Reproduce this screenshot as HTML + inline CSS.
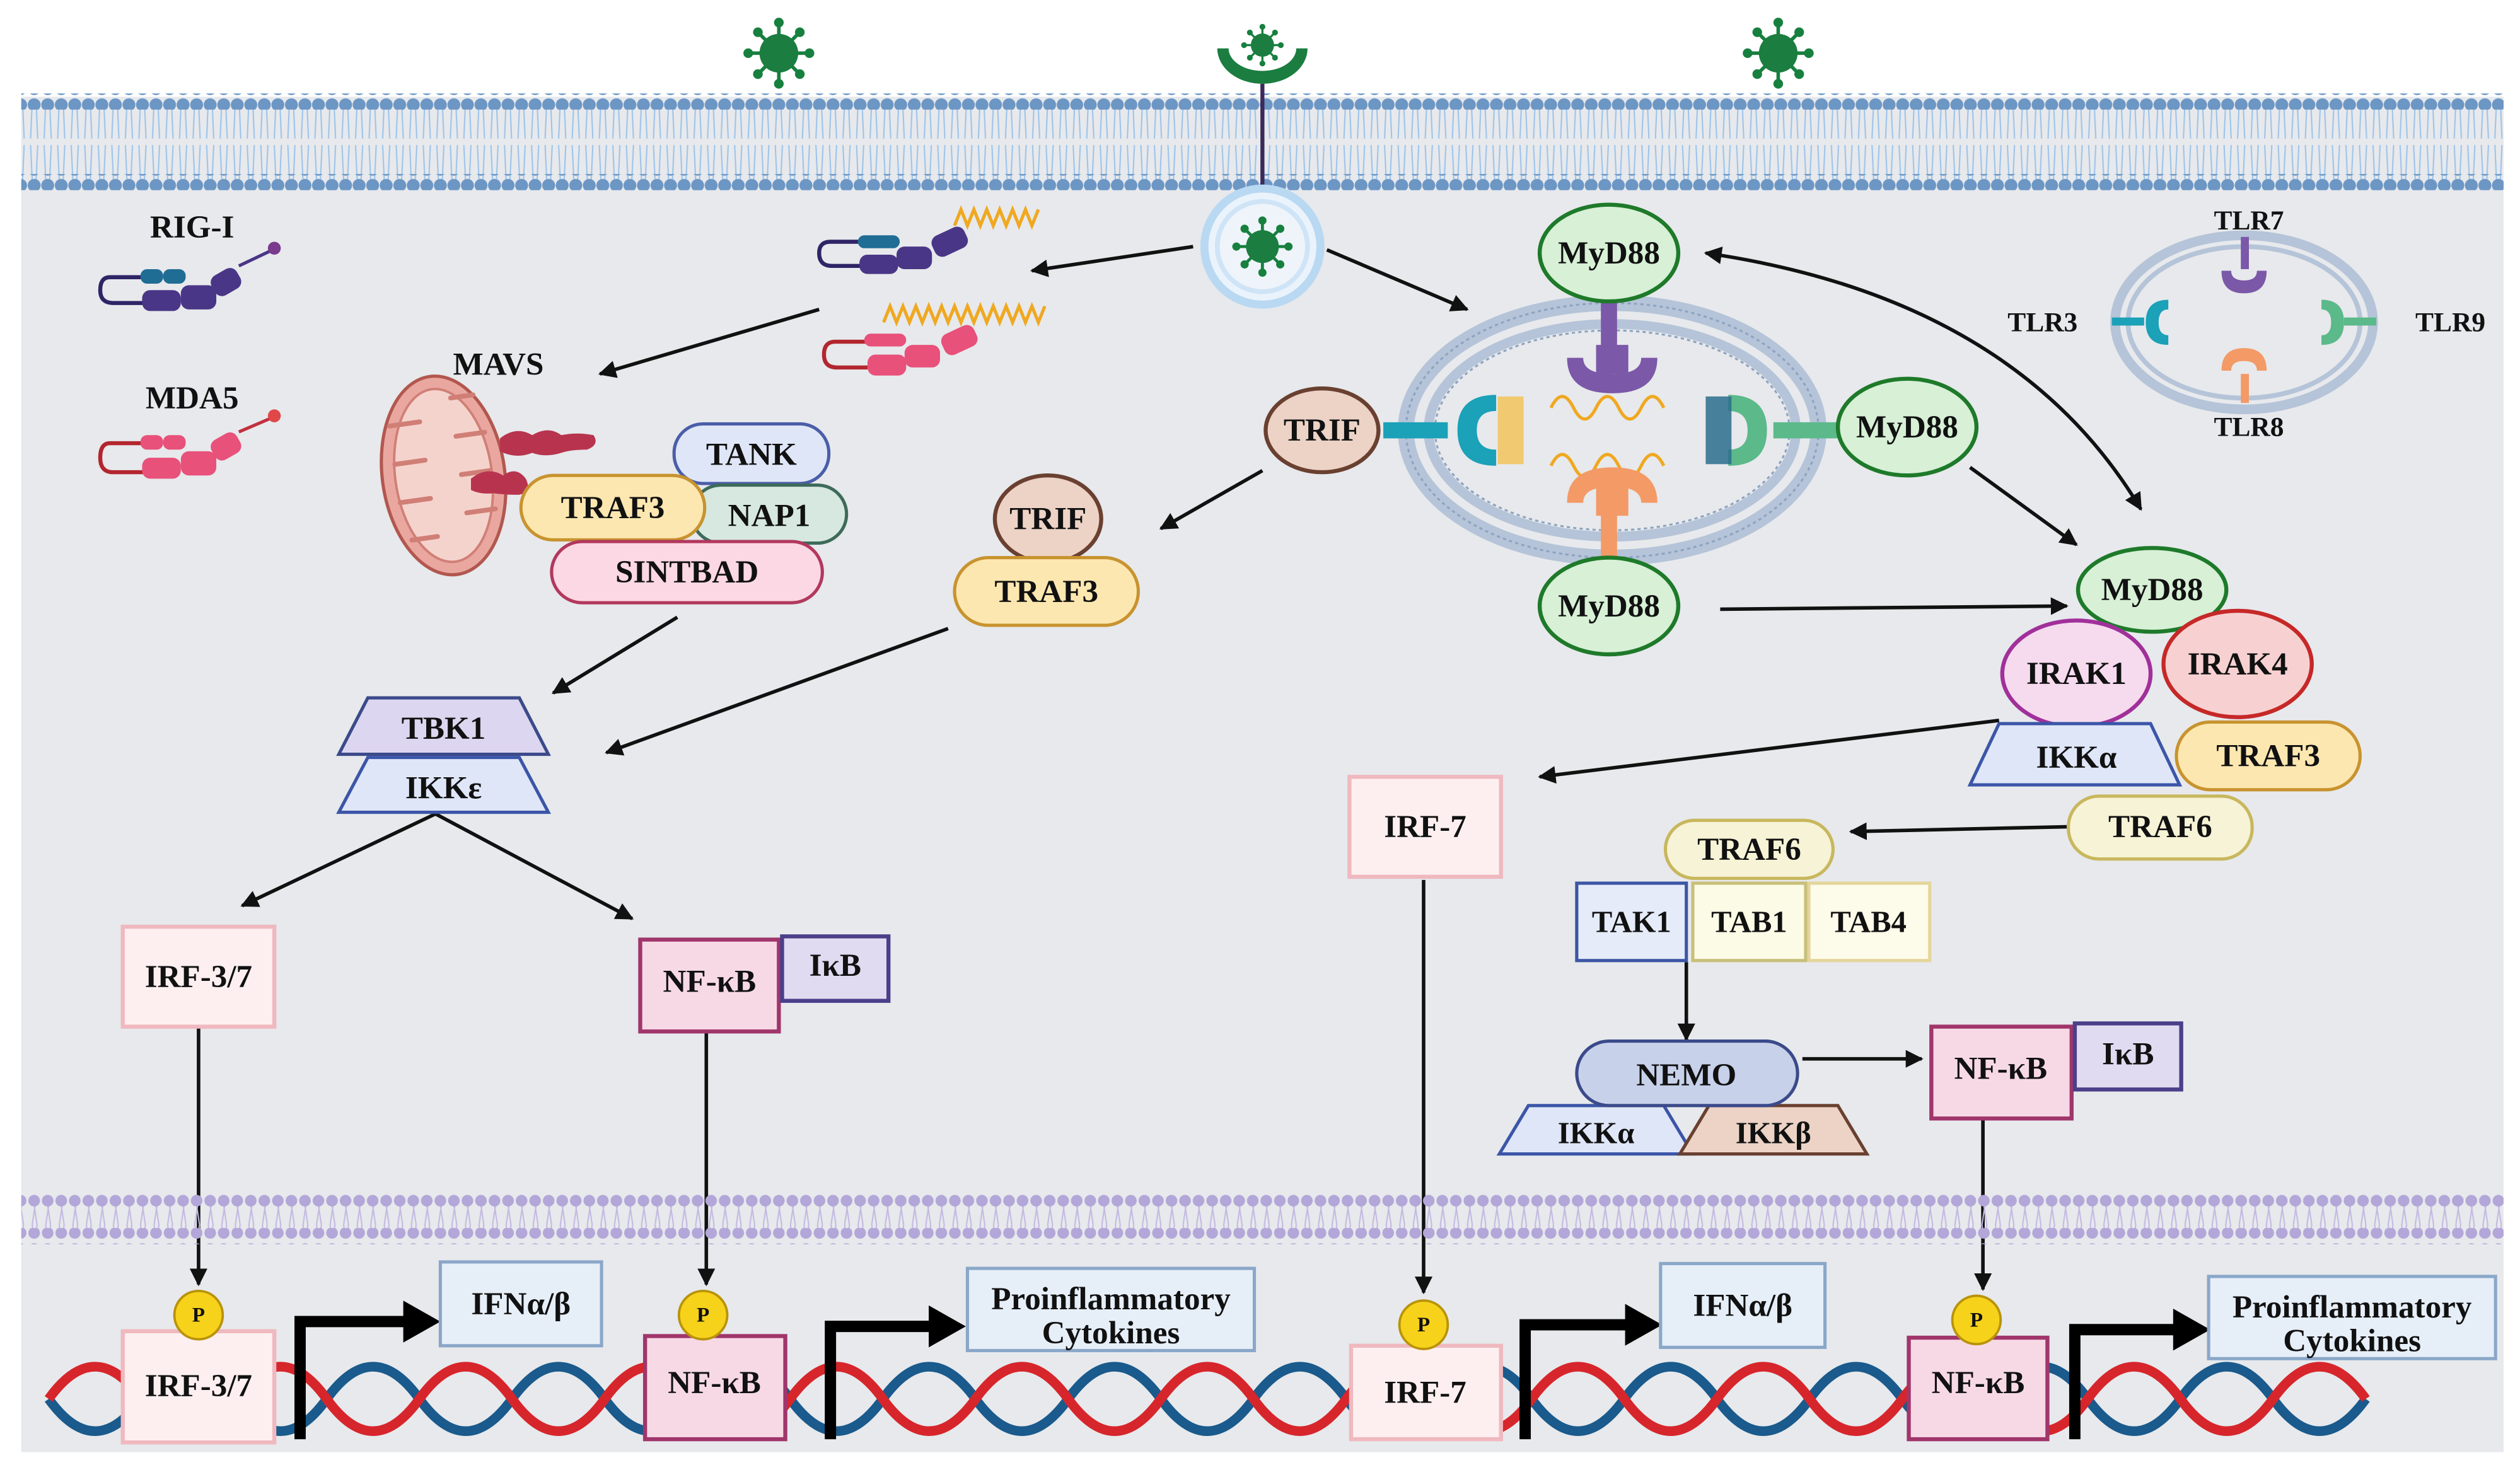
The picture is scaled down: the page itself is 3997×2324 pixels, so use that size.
<!DOCTYPE html>
<html><head><meta charset="utf-8"><style>html,body{margin:0;padding:0;background:#fff}svg{display:block}text{font-family:"Liberation Serif",serif;font-weight:bold;fill:#111;text-anchor:middle;dominant-baseline:central}</style></head><body>
<svg width="3997" height="2324" viewBox="0 0 1563 909" xmlns="http://www.w3.org/2000/svg">
<defs>
<marker id="ah" viewBox="0 0 10 10" refX="9" refY="5" markerWidth="5" markerHeight="5" orient="auto-start-reverse"><path d="M0,0L10,5L0,10z" fill="#111"/></marker>
<pattern id="mem" x="0" y="60" width="8.4" height="56" patternUnits="userSpaceOnUse"><g stroke="#9cc3ea" stroke-width="0.8"><line x1="3" y1="3" x2="2" y2="26"/><line x1="5.4" y1="3" x2="6.4" y2="26"/><line x1="2" y1="30" x2="3" y2="52"/><line x1="6.4" y1="30" x2="5.4" y2="52"/></g></pattern>
<pattern id="dots" width="8.4" height="10" patternUnits="userSpaceOnUse"><circle cx="4.2" cy="5" r="4" fill="#6c96c4"/></pattern>
<pattern id="ndots" width="8.4" height="10" patternUnits="userSpaceOnUse"><circle cx="4.2" cy="5" r="3.6" fill="#b3a6d8"/></pattern>
<pattern id="nmem" width="8.4" height="20" patternUnits="userSpaceOnUse"><g stroke="#c4b8e2" stroke-width="0.8"><line x1="3" y1="0" x2="6" y2="20"/><line x1="6" y1="0" x2="3" y2="20"/></g></pattern>
<g id="virus"><g stroke="#17803f" stroke-width="2.2"><line x1="-19" y1="0" x2="19" y2="0"/><line x1="0" y1="-19" x2="0" y2="19"/><line x1="-13" y1="-13" x2="13" y2="13"/><line x1="-13" y1="13" x2="13" y2="-13"/></g><g fill="#17803f"><circle cx="-19" cy="0" r="3"/><circle cx="19" cy="0" r="3"/><circle cx="0" cy="-19" r="3"/><circle cx="0" cy="19" r="3"/><circle cx="-13" cy="-13" r="3"/><circle cx="13" cy="13" r="3"/><circle cx="-13" cy="13" r="3"/><circle cx="13" cy="-13" r="3"/></g><circle r="12" fill="#1b7d40"/></g>
</defs>
<rect x="0" y="0" width="1563" height="909" fill="#fff"/>
<rect x="13" y="60" width="1540" height="841" fill="#e7e9ec"/>
<!-- plasma membrane -->
<rect x="13" y="60" width="1540" height="56" fill="url(#mem)"/>
<rect x="13" y="58" width="1540" height="10" fill="url(#dots)"/>
<rect x="13" y="108" width="1540" height="10" fill="url(#dots)"/>
<!-- viruses -->
<use href="#virus" x="483" y="33"/>
<use href="#virus" x="1103" y="33"/>
<path d="M755,30 A28,22 0 0 0 811,30 L804,30 A21,14 0 0 1 762,30z" fill="#1b7d40"/>
<use href="#virus" transform="translate(783,28) scale(0.6)"/>
<line x1="783" y1="52" x2="783" y2="122" stroke="#3b2a5a" stroke-width="2.5"/>
<!-- endosome with virus -->
<circle cx="783" cy="153" r="36" fill="#eaf3fb" stroke="#b9d8f2" stroke-width="5"/>
<circle cx="783" cy="153" r="28" fill="#eef4fa" stroke="#cfe4f6" stroke-width="3"/>
<use href="#virus" transform="translate(783,153) scale(0.85)"/>
<!-- RIG-I / MDA5 icons -->
<g>
<path d="M88,172 L68,172 Q62,172 62,180 Q62,188 70,188 L90,188" fill="none" stroke="#2e2466" stroke-width="2.5"/>
<rect x="87" y="167" width="14" height="9" rx="4" fill="#1f6d94"/><rect x="101" y="167" width="14" height="9" rx="4" fill="#1f6d94"/>
<rect x="88" y="180" width="24" height="13" rx="5" fill="#4a3687"/><rect x="112" y="177" width="22" height="15" rx="5" fill="#4a3687"/><rect x="131" y="168" width="18" height="14" rx="5" fill="#4a3687" transform="rotate(-30 140 175)"/><line x1="148" y1="165" x2="169" y2="155" stroke="#4a3687" stroke-width="2"/><circle cx="170" cy="154" r="4" fill="#7a3a8e"/>
</g>
<text x="119" y="141" font-size="20">RIG-I</text>
<g>
<path d="M88,275 L68,275 Q62,275 62,284 Q62,293 70,293 L90,293" fill="none" stroke="#b3262f" stroke-width="2.5"/>
<rect x="87" y="270" width="14" height="9" rx="4" fill="#e8517a"/><rect x="101" y="270" width="14" height="9" rx="4" fill="#e8517a"/>
<rect x="88" y="284" width="24" height="13" rx="5" fill="#e8517a"/><rect x="112" y="280" width="22" height="15" rx="5" fill="#e8517a"/><rect x="131" y="270" width="18" height="14" rx="5" fill="#e8517a" transform="rotate(-30 140 277)"/><line x1="148" y1="268" x2="169" y2="259" stroke="#c23040" stroke-width="2"/><circle cx="170" cy="258" r="4" fill="#e04848"/>
</g>
<text x="119" y="247" font-size="20">MDA5</text>
<!-- active RIG-I / MDA5 -->
<g>
<path d="M533,150 L515,150 Q508,150 508,157 Q508,165 516,165 L535,165" fill="none" stroke="#2e2466" stroke-width="2.5"/>
<rect x="532" y="146" width="26" height="8" rx="4" fill="#1f6d94"/>
<rect x="533" y="158" width="24" height="12" rx="5" fill="#4a3687"/><rect x="556" y="153" width="22" height="14" rx="5" fill="#4a3687"/><rect x="578" y="143" width="22" height="14" rx="5" fill="#4a3687" transform="rotate(-25 589 150)"/>
<path d="M592,140 l4,-10 l4,10 l4,-10 l4,10 l4,-10 l4,10 l4,-10 l4,10 l4,-10 l4,10 l4,-10 l4,10 l4,-10" fill="none" stroke="#f0a820" stroke-width="2"/>
</g>
<g>
<path d="M537,212 L518,212 Q511,212 511,220 Q511,228 519,228 L538,228" fill="none" stroke="#b3262f" stroke-width="2.5"/>
<rect x="536" y="207" width="26" height="8" rx="4" fill="#e8517a"/>
<rect x="538" y="220" width="24" height="13" rx="5" fill="#e8517a"/><rect x="561" y="214" width="22" height="14" rx="5" fill="#e8517a"/><rect x="584" y="204" width="22" height="14" rx="5" fill="#e8517a" transform="rotate(-25 595 211)"/>
<path d="M548,200 l4,-10 l4,10 l4,-10 l4,10 l4,-10 l4,10 l4,-10 l4,10 l4,-10 l4,10 l4,-10 l4,10 l4,-10 l4,10 l4,-10 l4,10 l4,-10 l4,10 l4,-10 l4,10 l4,-10 l4,10 l4,-10 l4,10 l4,-10" fill="none" stroke="#f0a820" stroke-width="2"/>
</g>
<!-- arrows -->
<g stroke="#111" stroke-width="2.2" fill="none" marker-end="url(#ah)">
<line x1="740" y1="153" x2="640" y2="168"/>
<line x1="823" y1="155" x2="910" y2="192"/>
<line x1="508" y1="192" x2="372" y2="232"/>
<line x1="420" y1="383" x2="343" y2="430"/>
<line x1="588" y1="390" x2="376" y2="467"/>
<line x1="783" y1="292" x2="720" y2="328"/>
<line x1="270" y1="505" x2="150" y2="562"/>
<line x1="270" y1="505" x2="392" y2="570"/>
<line x1="123" y1="637" x2="123" y2="797"/>
<line x1="438" y1="640" x2="438" y2="797"/>
<line x1="1067" y1="378" x2="1282" y2="376"/>
<line x1="1222" y1="290" x2="1288" y2="338"/>
<path d="M1058,157 Q1250,185 1328,316" marker-start="url(#ah)"/>
<line x1="1240" y1="447" x2="955" y2="482"/>
<line x1="1282" y1="513" x2="1148" y2="516"/>
<line x1="1046" y1="597" x2="1046" y2="645"/>
<line x1="1118" y1="657" x2="1192" y2="657"/>
<line x1="883" y1="546" x2="883" y2="802"/>
<line x1="1230" y1="695" x2="1230" y2="800"/>
</g>
<!-- mitochondrion -->
<g transform="rotate(-8 275 295)">
<ellipse cx="275" cy="295" rx="38" ry="62" fill="#e9a7a0" stroke="#b2574f" stroke-width="2"/>
<ellipse cx="275" cy="295" rx="30" ry="54" fill="#f5d3cd" stroke="#d07f76" stroke-width="1.5"/>
<g stroke="#d07f76" stroke-width="3" stroke-linecap="round"><line x1="246" y1="260" x2="265" y2="260"/><line x1="286" y1="272" x2="304" y2="272"/><line x1="246" y1="284" x2="265" y2="284"/><line x1="286" y1="296" x2="304" y2="296"/><line x1="246" y1="308" x2="265" y2="308"/><line x1="286" y1="320" x2="304" y2="320"/><line x1="250" y1="332" x2="266" y2="332"/><line x1="286" y1="248" x2="300" y2="248"/></g>
</g>
<path d="M310,272 q10,-8 20,-2 q10,-6 18,0 q10,-2 20,0 q4,6 -4,9 q-10,0 -16,2 q-10,3 -18,0 q-10,4 -20,-1z" fill="#b8344e"/>
<path d="M292,297 q10,-8 20,-2 q8,-6 14,2 q4,8 -4,10 q-10,0 -16,-1 q-8,1 -14,-2z" fill="#b8344e"/>
<text x="309" y="226" font-size="20">MAVS</text>
<!-- MAVS complex -->
<rect x="418" y="263" width="96" height="37" rx="18" fill="#dfe6f7" stroke="#4a5ea8" stroke-width="2"/><text x="466" y="282" font-size="20">TANK</text>
<rect x="429" y="301" width="96" height="36" rx="18" fill="#d6e8e0" stroke="#3d6b5a" stroke-width="2"/><text x="477" y="320" font-size="20">NAP1</text>
<rect x="323" y="295" width="114" height="40" rx="20" fill="#fde7b0" stroke="#c8932f" stroke-width="2"/><text x="380" y="315" font-size="20">TRAF3</text>
<rect x="342" y="336" width="168" height="38" rx="19" fill="#fbd8e3" stroke="#b2385e" stroke-width="2"/><text x="426" y="355" font-size="20">SINTBAD</text>
<!-- TRIF TRAF3 -->
<ellipse cx="650" cy="322" rx="33" ry="27" fill="#ecd3c6" stroke="#6a4030" stroke-width="2.5"/><text x="650" y="322" font-size="20">TRIF</text>
<rect x="592" y="346" width="114" height="42" rx="21" fill="#fde7b0" stroke="#c8932f" stroke-width="2"/><text x="649" y="367" font-size="20">TRAF3</text>
<!-- TBK1 IKKe -->
<path d="M228,433 L322,433 L340,468 L210,468z" fill="#dcd6f0" stroke="#3b4a8a" stroke-width="2"/><text x="275" y="452" font-size="20">TBK1</text>
<path d="M228,470 L322,470 L340,504 L210,504z" fill="#dfe6f7" stroke="#3b55a8" stroke-width="2"/><text x="275" y="489" font-size="20">IKKε</text>
<!-- IRF & NFkB cytoplasm -->
<rect x="76" y="575" width="94" height="62" fill="#fdeff0" stroke="#f0b8bf" stroke-width="2.5"/><text x="123" y="606" font-size="20">IRF-3/7</text>
<rect x="397" y="583" width="86" height="57" fill="#f7d9e6" stroke="#a0366b" stroke-width="2.5"/><text x="440" y="609" font-size="20">NF-κB</text>
<rect x="485" y="581" width="66" height="40" fill="#e0dbf0" stroke="#4b3f8a" stroke-width="2.5"/><text x="518" y="599" font-size="20">IκB</text>
<!-- big endosome -->
<ellipse cx="1000" cy="267" rx="128" ry="79" fill="none" stroke="#b5c4d8" stroke-width="10"/>
<ellipse cx="1000" cy="267" rx="128" ry="79" fill="none" stroke="#8ea3c0" stroke-width="1.2" stroke-dasharray="2 2"/>
<ellipse cx="1000" cy="267" rx="114" ry="66" fill="none" stroke="#b5c4d8" stroke-width="6"/>
<ellipse cx="1000" cy="267" rx="110" ry="62" fill="none" stroke="#8ea3c0" stroke-width="1.2" stroke-dasharray="2 2"/>
<!-- TLRs in endosome -->
<g fill="#7b58a8"><rect x="993" y="186" width="10" height="30"/><path d="M972,222 q0,22 28,22 q28,0 28,-22 l-10,0 q0,10 -18,10 q-18,0 -18,-10z"/><rect x="990" y="214" width="20" height="18"/></g>
<path d="M962,253 q7,-14 14,0 t14,0 t14,0 t14,0 t14,0" fill="none" stroke="#f0a820" stroke-width="2"/>
<path d="M962,289 q7,-14 14,0 t14,0 t14,0 t14,0 t14,0" fill="none" stroke="#f0a820" stroke-width="2"/>
<g fill="#f39a66"><rect x="993" y="318" width="10" height="30"/><path d="M972,312 q0,-22 28,-22 q28,0 28,22 l-10,0 q0,-10 -18,-10 q-18,0 -18,10z"/><rect x="990" y="302" width="20" height="18"/></g>
<g fill="#1ba1b8"><rect x="858" y="262" width="40" height="10"/><path d="M928,245 q-24,0 -24,22 q0,22 24,22 l0,-10 q-12,0 -12,-12 q0,-12 12,-12z"/></g>
<rect x="929" y="246" width="16" height="42" fill="#f2c35a" opacity="0.85"/>
<g fill="#5bb98a"><rect x="1100" y="262" width="40" height="10"/><path d="M1072,245 q24,0 24,22 q0,22 -24,22 l0,-10 q12,0 12,-12 q0,-12 -12,-12z"/></g>
<rect x="1058" y="246" width="16" height="42" fill="#2a6d8c" opacity="0.85"/>
<!-- TRIF & MyD88 -->
<ellipse cx="820" cy="267" rx="35" ry="26" fill="#ecd3c6" stroke="#6a4030" stroke-width="2.5"/><text x="820" y="267" font-size="20">TRIF</text>
<g fill="#d7f0d6" stroke="#1e7a2a" stroke-width="2.5">
<ellipse cx="998" cy="157" rx="43" ry="30"/><ellipse cx="1183" cy="265" rx="43" ry="30"/><ellipse cx="998" cy="376" rx="43" ry="30"/><ellipse cx="1335" cy="366" rx="46" ry="26"/>
</g>
<text x="998" y="157" font-size="20">MyD88</text><text x="1183" y="265" font-size="20">MyD88</text><text x="998" y="376" font-size="20">MyD88</text><text x="1335" y="366" font-size="20">MyD88</text>
<!-- small TLR endosome -->
<ellipse cx="1392" cy="200" rx="80" ry="54" fill="none" stroke="#b5c4d8" stroke-width="6"/>
<ellipse cx="1392" cy="200" rx="72" ry="47" fill="none" stroke="#b5c4d8" stroke-width="3"/>
<g fill="#7b58a8"><rect x="1390" y="147" width="5" height="20"/><path d="M1378,168 q0,14 14,14 q14,0 14,-14 l-6,0 q0,6 -8,6 q-8,0 -8,-6z"/></g>
<g fill="#f39a66"><rect x="1390" y="232" width="5" height="18"/><path d="M1378,230 q0,-14 14,-14 q14,0 14,14 l-6,0 q0,-6 -8,-6 q-8,0 -8,6z"/></g>
<g fill="#1ba1b8"><rect x="1310" y="197" width="20" height="5"/><path d="M1345,186 q-14,0 -14,14 q0,14 14,14 l0,-6 q-6,0 -6,-8 q0,-8 6,-8z"/></g>
<g fill="#5bb98a"><rect x="1454" y="197" width="20" height="5"/><path d="M1440,186 q14,0 14,14 q0,14 -14,14 l0,-6 q6,0 6,-8 q0,-8 -6,-8z"/></g>
<text x="1395" y="137" font-size="17">TLR7</text><text x="1267" y="200" font-size="17">TLR3</text><text x="1520" y="200" font-size="17">TLR9</text><text x="1395" y="265" font-size="17">TLR8</text>
<!-- MyD88 complex right -->
<ellipse cx="1388" cy="412" rx="46" ry="33" fill="#f7d1d1" stroke="#c62828" stroke-width="2.5"/><text x="1388" y="412" font-size="20">IRAK4</text>
<ellipse cx="1288" cy="418" rx="46" ry="33" fill="#f6dbef" stroke="#a1309a" stroke-width="2.5"/><text x="1288" y="418" font-size="20">IRAK1</text>
<path d="M1240,449 L1334,449 L1352,487 L1222,487z" fill="#dfe6f7" stroke="#3b55a8" stroke-width="2"/><text x="1288" y="470" font-size="20">IKKα</text>
<rect x="1350" y="448" width="114" height="42" rx="21" fill="#fde7b0" stroke="#c8932f" stroke-width="2"/><text x="1407" y="469" font-size="20">TRAF3</text>
<rect x="1283" y="494" width="114" height="39" rx="19" fill="#f6f3d6" stroke="#c8b75d" stroke-width="2"/><text x="1340" y="513" font-size="20">TRAF6</text>
<rect x="837" y="482" width="94" height="62" fill="#fdeff0" stroke="#f0b8bf" stroke-width="2.5"/><text x="884" y="513" font-size="20">IRF-7</text>
<rect x="1033" y="509" width="104" height="36" rx="18" fill="#f6f3d6" stroke="#c8b75d" stroke-width="2"/><text x="1085" y="527" font-size="20">TRAF6</text>
<rect x="978" y="548" width="68" height="48" fill="#e6ebf9" stroke="#3c55a5" stroke-width="2"/><text x="1012" y="572" font-size="19">TAK1</text>
<rect x="1050" y="548" width="70" height="48" fill="#fbfbe6" stroke="#c8c07a" stroke-width="2"/><text x="1085" y="572" font-size="19">TAB1</text>
<rect x="1122" y="548" width="75" height="48" fill="#fdfbe9" stroke="#e4d59b" stroke-width="2"/><text x="1159" y="572" font-size="19">TAB4</text>
<path d="M948,686 L1032,686 L1050,716 L930,716z" fill="#dfe6f7" stroke="#3b55a8" stroke-width="2"/><text x="990" y="703" font-size="19">IKKα</text>
<path d="M1060,686 L1140,686 L1158,716 L1042,716z" fill="#ecd3c6" stroke="#6a4030" stroke-width="2"/><text x="1100" y="703" font-size="19">IKKβ</text>
<rect x="978" y="646" width="137" height="40" rx="20" fill="#c8d1ea" stroke="#3a4a8a" stroke-width="2"/><text x="1046" y="667" font-size="20">NEMO</text>
<rect x="1198" y="637" width="87" height="57" fill="#f7d9e6" stroke="#a0366b" stroke-width="2.5"/><text x="1241" y="663" font-size="20">NF-κB</text>
<rect x="1287" y="635" width="66" height="41" fill="#e0dbf0" stroke="#4b3f8a" stroke-width="2.5"/><text x="1320" y="654" font-size="20">IκB</text>
<!-- nuclear membrane -->
<rect x="13" y="745" width="1540" height="22" fill="url(#nmem)"/>
<rect x="13" y="740" width="1540" height="10" fill="url(#ndots)"/>
<rect x="13" y="762" width="1540" height="10" fill="url(#ndots)"/>
<!-- DNA -->
<path d="M30,868 Q58.75,908 87.5,868 T145,868 T202.5,868 T260,868 T317.5,868 T375,868 T432.5,868 T490,868 T547.5,868 T605,868 T662.5,868 T720,868 T777.5,868 T835,868 T892.5,868 T950,868 T1007.5,868 T1065,868 T1122.5,868 T1180,868 T1237.5,868 T1295,868 T1352.5,868 T1410,868 T1467.5,868" fill="none" stroke="#1a5a8c" stroke-width="6"/>
<path d="M30,868 Q58.75,828 87.5,868 T145,868 T202.5,868 T260,868 T317.5,868 T375,868 T432.5,868 T490,868 T547.5,868 T605,868 T662.5,868 T720,868 T777.5,868 T835,868 T892.5,868 T950,868 T1007.5,868 T1065,868 T1122.5,868 T1180,868 T1237.5,868 T1295,868 T1352.5,868 T1410,868 T1467.5,868" fill="none" stroke="#d6262c" stroke-width="6"/>
<!-- nuclear boxes -->
<rect x="76" y="826" width="94" height="69" fill="#fdeff0" stroke="#f0b8bf" stroke-width="2.5"/><text x="123" y="860" font-size="20">IRF-3/7</text>
<rect x="400" y="829" width="87" height="64" fill="#f7d9e6" stroke="#a0366b" stroke-width="2.5"/><text x="443" y="858" font-size="20">NF-κB</text>
<rect x="838" y="835" width="93" height="58" fill="#fdeff0" stroke="#f0b8bf" stroke-width="2.5"/><text x="884" y="864" font-size="20">IRF-7</text>
<rect x="1184" y="830" width="86" height="63" fill="#f7d9e6" stroke="#a0366b" stroke-width="2.5"/><text x="1227" y="858" font-size="20">NF-κB</text>
<g fill="#f7d21a" stroke="#b8930a" stroke-width="1.5"><circle cx="123" cy="816" r="15"/><circle cx="436" cy="816" r="15"/><circle cx="883" cy="822" r="15"/><circle cx="1226" cy="819" r="15"/></g>
<text x="123" y="816" font-size="13">P</text><text x="436" y="816" font-size="13">P</text><text x="883" y="822" font-size="13">P</text><text x="1226" y="819" font-size="13">P</text>
<!-- promoter arrows -->
<g stroke="#000" stroke-width="7" fill="none"><path d="M186,893 L186,820 L252,820"/><path d="M515,893 L515,823 L578,823"/><path d="M946,893 L946,822 L1010,822"/><path d="M1287,893 L1287,825 L1350,825"/></g>
<g fill="#000"><path d="M250,807 L273,820 L250,833z"/><path d="M576,810 L599,823 L576,836z"/><path d="M1008,809 L1031,822 L1008,835z"/><path d="M1348,812 L1371,825 L1348,838z"/></g>
<rect x="273" y="783" width="100" height="52" fill="#e6eef8" stroke="#8aa7c9" stroke-width="2"/><text x="323" y="809" font-size="20">IFNα/β</text>
<rect x="600" y="787" width="178" height="51" fill="#e6eef8" stroke="#8aa7c9" stroke-width="2"/><text x="689" y="806" font-size="20">Proinflammatory</text><text x="689" y="827" font-size="20">Cytokines</text>
<rect x="1030" y="784" width="102" height="52" fill="#e6eef8" stroke="#8aa7c9" stroke-width="2"/><text x="1081" y="810" font-size="20">IFNα/β</text>
<rect x="1370" y="792" width="178" height="51" fill="#e6eef8" stroke="#8aa7c9" stroke-width="2"/><text x="1459" y="811" font-size="20">Proinflammatory</text><text x="1459" y="832" font-size="20">Cytokines</text>
</svg>
</body></html>
